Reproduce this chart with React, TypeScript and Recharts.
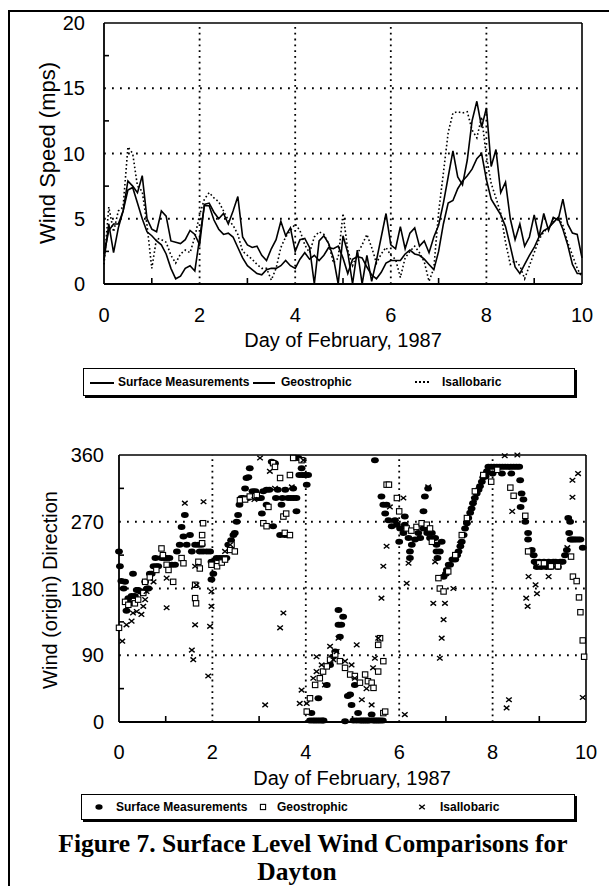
import React from "react";
import {
  LineChart,
  Line,
  ScatterChart,
  Scatter,
  XAxis,
  YAxis,
  ReferenceLine,
} from "recharts";

// sample time, day of February 1987
const DAY = [
  0, 0.1, 0.2, 0.3, 0.4, 0.5, 0.6, 0.7, 0.8, 0.9,
  1, 1.1, 1.2, 1.3, 1.4, 1.5, 1.6, 1.7, 1.8, 1.9,
  2, 2.1, 2.2, 2.3, 2.4, 2.5, 2.6, 2.7, 2.8, 2.9,
  3, 3.1, 3.2, 3.3, 3.4, 3.5, 3.6, 3.7, 3.8, 3.9,
  4, 4.1, 4.2, 4.3, 4.4, 4.5, 4.6, 4.7, 4.8, 4.9,
  5, 5.1, 5.2, 5.3, 5.4, 5.5, 5.6, 5.7, 5.8, 5.9,
  6, 6.1, 6.2, 6.3, 6.4, 6.5, 6.6, 6.7, 6.8, 6.9,
  7, 7.1, 7.2, 7.3, 7.4, 7.5, 7.6, 7.7, 7.8, 7.9,
  8, 8.1, 8.2, 8.3, 8.4, 8.5, 8.6, 8.7, 8.8, 8.9,
  9, 9.1, 9.2, 9.3, 9.4, 9.5, 9.6, 9.7, 9.8, 9.9,
  10,
];

// wind speed, m/s
const SURFACE_SPEED = [
  1.8, 4.6, 2.4, 4.3, 5.6, 7.9, 7.5, 7.0, 8.3, 5.0,
  4.2, 4.0, 5.6, 5.2, 3.3, 3.2, 3.1, 3.4, 4.1, 3.8,
  3.0, 6.1, 6.2, 5.5, 5.0, 5.4, 4.6, 5.6, 6.7, 3.6,
  3.0, 2.8, 2.9, 2.2, 1.8, 2.7, 3.4, 4.8, 3.7, 4.3,
  2.5, 3.4, 3.5, 2.8, 0.0, 3.3, 3.7, 3.1, 2.0, 0.0,
  3.7, 2.4, 0.0, 2.6, 0.0, 2.2, 0.2, 1.8, 3.6, 5.4,
  3.0, 2.7, 4.4, 2.7, 3.9, 4.3, 2.9, 3.3, 2.4, 3.6,
  4.5, 6.2, 8.2, 10.2, 8.2, 7.6, 9.5, 12.5, 14.0, 12.0,
  13.5, 9.0, 10.3, 7.0, 7.8, 5.0, 3.4, 4.6, 2.9, 3.6,
  5.3, 3.6, 5.4, 4.1, 5.1, 4.9, 6.5, 4.6, 3.9, 3.8,
  2.0,
];

const GEOSTROPHIC_SPEED = [
  2.3, 4.1, 4.6, 4.6, 5.6, 7.2, 7.4, 6.2, 5.0, 4.0,
  3.7, 3.3, 3.0, 2.3, 1.2, 0.4, 0.6, 1.2, 1.4, 1.0,
  3.5, 6.0, 6.0, 4.9, 4.2, 3.8, 3.9, 3.6, 2.8, 2.0,
  1.4, 1.1, 0.8, 0.7, 1.1, 1.2, 1.2, 1.4, 1.8, 1.4,
  1.2, 1.9, 2.4, 1.9, 2.2, 1.8, 2.2, 2.8, 2.7, 2.9,
  2.0, 0.8, 1.9, 2.1, 2.0, 1.3, 0.7, 0.4, 0.9, 1.6,
  1.8, 1.8, 1.8, 2.3, 2.6, 2.3, 2.2, 1.9, 1.5, 1.1,
  2.5, 4.6, 6.2, 6.4, 7.3, 7.9, 8.3, 8.8, 9.6, 10.0,
  8.0, 6.5, 5.9, 5.3, 4.4, 2.9, 1.3, 0.8, 1.5, 2.2,
  2.8, 3.6, 4.1, 4.3, 4.7, 5.1, 4.2, 3.0, 1.5, 0.8,
  0.8,
];

const ISALLOBARIC_SPEED = [
  1.5, 5.9, 4.0, 5.6, 5.9, 10.5, 10.0, 7.5, 7.1, 4.5,
  1.2, 3.5, 3.4, 3.2, 2.2, 1.6, 2.3, 2.6, 2.4, 3.6,
  5.3, 6.5, 7.0, 6.6, 6.3, 5.6, 4.9, 4.5, 3.8, 2.5,
  2.2, 1.9, 1.5, 1.2, 1.2, 0.3, 1.2, 2.8, 3.6, 4.1,
  4.6, 4.1, 3.0, 2.4, 3.6, 4.0, 3.8, 3.1, 1.6, 2.0,
  5.4, 2.6, 1.4, 2.3, 3.0, 3.8, 2.8, 1.6, 2.3, 2.8,
  2.2, 1.9, 0.5, 2.0, 2.5, 2.9, 2.4, 1.7, 0.2, 1.2,
  5.5, 8.5, 11.6, 13.1, 13.2, 13.1, 13.2, 11.8, 11.2, 12.8,
  9.8, 7.7, 6.6, 5.4, 3.2, 1.5, 1.8, 1.4, 0.4, 1.4,
  2.4, 3.4, 4.0, 4.3, 4.8, 5.1, 4.5, 3.2, 2.2, 1.2,
  0.5,
];

// wind (origin) direction, [day, degrees]
const SURFACE_DIR: [number, number][] = [
  [0, 230], [0.02, 210], [0.05, 190], [0.1, 180], [0.13, 189], [0.16, 150], [0.2, 167],
  [0.24, 160], [0.27, 170], [0.3, 200], [0.34, 170], [0.38, 178], [0.41, 178], [0.46, 176],
  [0.52, 176], [0.56, 189], [0.6, 180], [0.63, 180], [0.66, 200], [0.7, 200], [0.74, 210],
  [0.8, 210], [0.84, 210], [0.78, 221], [0.91, 221], [0.97, 221], [1.02, 221], [1.08, 221],
  [1.13, 212], [1.2, 212], [1.24, 230], [1.3, 239], [1.34, 263], [1.38, 250], [1.41, 279],
  [1.45, 239], [1.52, 252], [1.56, 230], [1.63, 239], [1.7, 239], [1.77, 239], [1.73, 230],
  [1.8, 230], [1.88, 230], [1.95, 230], [1.98, 216], [1.98, 192], [2.02, 200], [2.09, 221],
  [2.16, 221], [2.23, 221], [2.3, 221], [2.34, 239], [2.4, 245], [2.45, 252],
  [2.48, 255], [2.52, 270], [2.55, 279], [2.58, 293], [2.62, 302], [2.66, 302], [2.7, 315],
  [2.73, 329], [2.77, 330], [2.8, 342], [2.76, 302], [2.86, 311], [2.92, 311], [2.98, 302],
  [3.04, 302], [3.09, 311], [3.06, 281], [3.16, 293], [3.16, 313], [3.22, 313], [3.27, 351],
  [3.3, 264], [3.34, 349], [3.36, 302], [3.4, 313], [3.45, 252], [3.48, 293], [3.5, 302],
  [3.55, 252], [3.56, 313], [3.62, 302], [3.63, 252], [3.68, 302], [3.73, 315], [3.74, 302],
  [3.77, 356], [3.8, 284], [3.8, 302], [3.84, 356], [3.86, 333], [3.91, 342], [3.93, 333],
  [3.98, 333], [4.02, 320], [4.05, 333],
  [4.09, 2], [4.12, 12], [4.15, 2], [4.2, 2], [4.25, 2], [4.27, 32], [4.3, 2], [4.35, 2],
  [4.38, 2], [4.45, 50], [4.52, 77], [4.58, 88], [4.63, 95], [4.7, 131], [4.73, 115],
  [4.7, 151], [4.76, 131], [4.8, 142], [4.84, 1], [4.9, 35], [4.95, 37], [4.98, 23],
  [5.02, 2], [5.05, 50], [5.09, 2], [5.12, 12], [5.16, 2], [5.2, 2], [5.24, 2], [5.28, 2],
  [5.32, 2], [5.36, 2], [5.41, 10], [5.44, 2], [5.48, 2], [5.52, 2], [5.56, 2], [5.6, 2],
  [5.65, 2], [5.48, 353],
  [5.62, 304], [5.66, 293], [5.7, 281], [5.73, 293], [5.77, 272], [5.84, 264], [5.91, 272],
  [5.95, 266], [6, 243], [6.02, 261], [6.09, 255], [6.12, 277], [6.12, 266], [6.2, 248],
  [6.23, 230], [6.23, 221], [6.27, 239], [6.34, 246], [6.41, 255], [6.45, 248], [6.52, 261],
  [6.52, 284], [6.55, 304], [6.62, 315], [6.6, 255], [6.66, 248], [6.7, 255], [6.77, 248],
  [6.8, 239], [6.8, 230], [6.82, 221], [6.87, 230], [6.91, 243],
  [6.95, 196], [7, 200], [7.02, 205], [7.06, 212], [7.09, 212], [7.14, 219], [7.2, 219],
  [7.24, 225], [7.27, 230], [7.31, 237], [7.34, 243], [7.38, 252], [7.41, 261], [7.45, 268],
  [7.48, 275], [7.52, 282], [7.55, 288], [7.58, 295], [7.62, 302], [7.66, 308], [7.7, 313],
  [7.73, 318], [7.77, 324], [7.8, 330], [7.84, 333], [7.88, 338], [7.91, 344], [7.97, 344],
  [8.03, 344], [8.09, 344], [8.15, 344], [8.21, 344], [8.27, 344], [8.33, 344], [8.39, 344],
  [8.45, 344], [8.51, 344], [8.57, 344], [7.85, 331], [8, 335], [8.2, 335], [8.4, 335],
  [8.59, 326], [8.62, 308], [8.6, 290], [8.66, 300], [8.7, 270], [8.76, 255], [8.76, 246],
  [8.84, 232], [8.88, 225], [8.9, 216], [8.95, 209], [9, 216], [9.04, 209], [9.1, 216],
  [9.15, 209], [9.2, 216], [9.25, 209], [9.3, 216], [9.35, 216], [9.4, 209], [9.45, 216],
  [9.5, 216], [9.55, 225], [9.59, 232], [9.62, 275], [9.66, 270], [9.64, 255], [9.67, 246],
  [9.7, 246], [9.74, 246], [9.78, 246], [9.83, 246], [9.88, 246], [9.93, 235],
];

const GEOSTROPHIC_DIR: [number, number][] = [
  [0, 127], [0.13, 162], [0.2, 158], [0.34, 160], [0.41, 165], [0.52, 174], [0.56, 189],
  [0.66, 195], [0.8, 205], [0.91, 234], [0.94, 225], [1.02, 212], [1.06, 205], [1.16, 189],
  [1.34, 221], [1.38, 214], [1.63, 185], [1.63, 167], [1.65, 160], [1.8, 268], [1.78, 252],
  [1.78, 241], [1.7, 216], [1.73, 207], [1.98, 212], [2.1, 210], [2.2, 215], [2.27, 219],
  [2.38, 232], [2.41, 239], [2.48, 230], [2.59, 299], [2.7, 300], [2.8, 304], [2.95, 306],
  [3.09, 268], [3.16, 264], [3.2, 290], [3.3, 349], [3.34, 344], [3.45, 329], [3.52, 277],
  [3.58, 281], [3.55, 255], [3.66, 252], [3.66, 333], [3.73, 356], [3.91, 353],
  [4.02, 14], [4.09, 32], [4.2, 50], [4.3, 59], [4.37, 68], [4.45, 75], [4.52, 84],
  [4.63, 91], [4.73, 82], [4.84, 73], [4.95, 64], [5.05, 62], [5.16, 53], [5.27, 64],
  [5.33, 55], [5.41, 53], [5.45, 46], [5.55, 68], [5.55, 104], [5.59, 113], [5.66, 82],
  [5.66, 12], [5.7, 14],
  [5.73, 320], [5.78, 320], [5.95, 302], [6, 284], [6.16, 261], [6.26, 258], [6.37, 263],
  [6.48, 268], [6.59, 266], [6.66, 261], [6.7, 243], [6.84, 194], [6.87, 180], [6.95, 176],
  [7.05, 203], [7.2, 225], [7.34, 252], [7.45, 275], [7.62, 311], [7.8, 333], [7.97, 324],
  [8.1, 340], [8.38, 316], [8.45, 305], [8.7, 278], [8.76, 230], [9, 214], [9.1, 214],
  [9.25, 210], [9.4, 210], [9.68, 223], [9.72, 196], [9.8, 190], [9.85, 168], [9.88, 148],
  [9.93, 110], [9.96, 88],
];

const ISALLOBARIC_DIR: [number, number][] = [
  [0.07, 109], [0.16, 131], [0.27, 136], [0.3, 147], [0.38, 149], [0.48, 145], [0.52, 156],
  [0.56, 165], [0.59, 176], [0.74, 189], [1.02, 154], [1.02, 194], [1.41, 295], [1.81, 297],
  [1.56, 97], [1.59, 84], [1.63, 131], [1.95, 129], [1.91, 62], [1.98, 156], [1.98, 176],
  [1.66, 185], [1.63, 210], [2.27, 230], [2.38, 239], [2.9, 300], [3.02, 356], [3.23, 338],
  [3.34, 315], [3.7, 317], [3.95, 353], [3.52, 147], [3.45, 127], [3.13, 23], [3.91, 43],
  [4.02, 25], [3.87, 25], [4.23, 88], [4.23, 68], [4.16, 59], [4.34, 77], [4.41, 50],
  [4.52, 102], [4.59, 84], [4.7, 113], [4.66, 95], [4.84, 82], [4.98, 77], [5.09, 104],
  [5.05, 59], [5.2, 30], [5.3, 45], [5.41, 23], [5.44, 73], [5.48, 86], [5.55, 113],
  [5.62, 167], [5.66, 210], [5.73, 237], [5.8, 290], [6.09, 302], [6.16, 187], [6.2, 214],
  [6.12, 10], [6.62, 317], [6.77, 216], [6.73, 160], [6.98, 160], [6.95, 138], [6.91, 113],
  [6.87, 86], [7.16, 180], [7.3, 240], [7.6, 300], [8.26, 359], [8.53, 360], [8.42, 284],
  [8.35, 30], [8.3, 19], [8.72, 167], [8.75, 156], [8.92, 185], [8.95, 173], [8.77, 196],
  [8.93, 210], [9.2, 196], [9.6, 235], [9.71, 303], [9.71, 326], [9.83, 335], [9.93, 33],
];

// axes: labelled ticks, minor (inward) ticks, dotted grid
const DAY_LABELS = [0, 2, 4, 6, 8, 10];
const DAY_TICKS = [0, 1, 2, 3, 4, 5, 6, 7, 8, 9, 10];
const DAY_GRID = [2, 4, 6, 8];
const SPEED_LABELS = [0, 5, 10, 15, 20];
const SPEED_TICKS = [0, 2.5, 5, 7.5, 10, 12.5, 15, 17.5, 20];
const SPEED_GRID = [5, 10, 15];
const DIR_LABELS = [0, 90, 180, 270, 360];
const DIR_TICKS = [0, 45, 90, 135, 180, 225, 270, 315, 360];
const DIR_GRID = [90, 180, 270];

const SANS = "'Liberation Sans', Arial, Helvetica, sans-serif";
const SERIF = "'Liberation Serif', 'Times New Roman', serif";

const speedRows = DAY.map((day, i) => ({
  day,
  surface: SURFACE_SPEED[i],
  geo: GEOSTROPHIC_SPEED[i],
  isal: ISALLOBARIC_SPEED[i],
}));

const toPts = (arr: [number, number][]) => arr.map(([x, y]) => ({ x, y }));

// bottom axis tick: number under the axis, or a short tick pointing up into the plot
const xTick = (labels: number[], gap: number) => (p: any) => {
  const v = p.payload.value;
  if (labels.includes(v)) {
    return (
      <text x={p.x} y={p.y} dy="0.71em" textAnchor="middle" fill="#000" fontSize={20} fontFamily={SANS}>
        {v}
      </text>
    );
  }
  return <line x1={p.x} x2={p.x} y1={p.y - gap} y2={p.y - gap - 6} stroke="#000" strokeWidth={1.6} />;
};

// left axis tick: number left of the axis, or a short tick pointing right into the plot
const yTick = (labels: number[], gap: number) => (p: any) => {
  const v = p.payload.value;
  if (labels.includes(v)) {
    return (
      <text x={p.x} y={p.y} dy="0.355em" textAnchor="end" fill="#000" fontSize={20} fontFamily={SANS}>
        {v}
      </text>
    );
  }
  return <line x1={p.x + gap} x2={p.x + gap + 5} y1={p.y} y2={p.y} stroke="#000" strokeWidth={1.6} />;
};

const DotShape = (p: any) => <ellipse cx={p.cx} cy={p.cy} rx={3.9} ry={3} fill="#000" />;
const SquareShape = (p: any) => (
  <rect x={p.cx - 2.7} y={p.cy - 2.7} width={5.4} height={5.4} fill="#fff" stroke="#000" strokeWidth={1.1} />
);
const CrossShape = (p: any) => (
  <path
    d={`M${p.cx - 2.8},${p.cy - 2.3}L${p.cx + 2.8},${p.cy + 2.3}M${p.cx - 2.8},${p.cy + 2.3}L${p.cx + 2.8},${p.cy - 2.3}`}
    stroke="#000"
    strokeWidth={1.4}
  />
);

const gridH = { stroke: "#000", strokeWidth: 1.8, strokeDasharray: "1.8 6.2" };
const gridV = { stroke: "#000", strokeWidth: 1.8, strokeDasharray: "1.8 4" };
const axisLine = { stroke: "#000", strokeWidth: 1.8 };

const abs = (left: number, top: number): React.CSSProperties => ({ position: "absolute", left, top });

function LegendText({ x, children }: { x: number; children: React.ReactNode }) {
  return (
    <div style={{ ...abs(x, 0), height: "100%", display: "flex", alignItems: "center", fontSize: 12, fontWeight: 700, fontFamily: SANS, whiteSpace: "nowrap" }}>
      {children}
    </div>
  );
}

function LegendBox({ left, top, width, height, children }: any) {
  return (
    <div style={{ ...abs(left, top), width, height, border: "1px solid #000", boxShadow: "2px 2px 0 #000", background: "#fff" }}>
      {children}
    </div>
  );
}

const captionStyle: React.CSSProperties = {
  transform: "translate(-50%, -50%)",
  fontFamily: SERIF,
  fontWeight: 700,
  fontSize: 25.5,
  lineHeight: 1,
  whiteSpace: "nowrap",
};

export default function App() {
  return (
    <div style={{ position: "absolute", left: 0, top: 0, width: 609, height: 886, background: "#fff", overflow: "hidden" }}>
      {/* page frame */}
      <div style={{ ...abs(8, 10), width: 601, height: 2, background: "#000" }} />
      <div style={{ ...abs(8, 10), width: 2, height: 876, background: "#000" }} />

      {/* wind speed */}
      <div style={abs(0, 0)}>
        <LineChart width={609} height={330} data={speedRows} margin={{ top: 23, right: 27, left: 54, bottom: 6 }}>
          <XAxis
            dataKey="day"
            type="number"
            domain={[0, 10]}
            ticks={DAY_TICKS}
            interval={0}
            tickLine={false}
            tickSize={0}
            tickMargin={24}
            height={40}
            axisLine={axisLine}
            tick={xTick(DAY_LABELS, 24)}
          />
          <YAxis
            type="number"
            domain={[0, 20]}
            ticks={SPEED_TICKS}
            interval={0}
            tickLine={false}
            tickSize={0}
            tickMargin={19}
            width={50}
            axisLine={axisLine}
            tick={yTick(SPEED_LABELS, 19)}
          />
          {SPEED_GRID.map((v) => (
            <ReferenceLine key={`h${v}`} y={v} {...gridH} />
          ))}
          {DAY_GRID.map((v) => (
            <ReferenceLine key={`v${v}`} x={v} {...gridV} />
          ))}
          <ReferenceLine y={20} stroke="#000" strokeWidth={1.6} />
          <ReferenceLine x={10} stroke="#000" strokeWidth={1.6} />
          <Line dataKey="isal" type="linear" stroke="#000" strokeWidth={1.6} strokeDasharray="1.6 2.4" dot={false} isAnimationActive={false} />
          <Line dataKey="geo" type="linear" stroke="#000" strokeWidth={1.6} dot={false} isAnimationActive={false} />
          <Line dataKey="surface" type="linear" stroke="#000" strokeWidth={1.6} dot={false} isAnimationActive={false} />
        </LineChart>
      </div>
      <div style={{ ...abs(48, 153), transform: "translate(-50%, -50%) rotate(-90deg)", fontFamily: SANS, fontSize: 22, whiteSpace: "nowrap" }}>
        Wind Speed (mps)
      </div>
      <div style={{ ...abs(343, 340), transform: "translate(-50%, -50%)", fontFamily: SANS, fontSize: 20, whiteSpace: "nowrap" }}>
        Day of February, 1987
      </div>
      <LegendBox left={83} top={368} width={490} height={26}>
        <div style={{ ...abs(6, 13), width: 24, height: 1.5, background: "#000" }} />
        <LegendText x={34}>Surface Measurements</LegendText>
        <div style={{ ...abs(169, 13), width: 22, height: 1.5, background: "#000" }} />
        <LegendText x={197}>Geostrophic</LegendText>
        <div style={{ ...abs(331, 12), width: 14, height: 0, borderTop: "2px dotted #000" }} />
        <LegendText x={358}>Isallobaric</LegendText>
      </LegendBox>

      {/* wind direction */}
      <div style={abs(0, 420)}>
        <ScatterChart width={609} height={350} margin={{ top: 35, right: 23, left: 69, bottom: 8 }}>
          <XAxis
            dataKey="x"
            type="number"
            domain={[0, 10]}
            ticks={DAY_TICKS}
            interval={0}
            tickLine={false}
            tickSize={0}
            tickMargin={23}
            height={40}
            axisLine={axisLine}
            tick={xTick(DAY_LABELS, 23)}
          />
          <YAxis
            dataKey="y"
            type="number"
            domain={[0, 360]}
            ticks={DIR_TICKS}
            interval={0}
            tickLine={false}
            tickSize={0}
            tickMargin={15}
            width={50}
            axisLine={axisLine}
            tick={yTick(DIR_LABELS, 15)}
          />
          {DIR_GRID.map((v) => (
            <ReferenceLine key={`h${v}`} y={v} {...gridH} />
          ))}
          {DAY_GRID.map((v) => (
            <ReferenceLine key={`v${v}`} x={v} {...gridV} />
          ))}
          <ReferenceLine y={360} stroke="#000" strokeWidth={1.6} />
          <ReferenceLine x={10} stroke="#000" strokeWidth={1.6} />
          <Scatter data={toPts(SURFACE_DIR)} shape={DotShape} isAnimationActive={false} />
          <Scatter data={toPts(GEOSTROPHIC_DIR)} shape={SquareShape} isAnimationActive={false} />
          <Scatter data={toPts(ISALLOBARIC_DIR)} shape={CrossShape} isAnimationActive={false} />
        </ScatterChart>
      </div>
      <div style={{ ...abs(50, 590), transform: "translate(-50%, -50%) rotate(-90deg)", fontFamily: SANS, fontSize: 20, whiteSpace: "nowrap" }}>
        Wind (origin) Direction
      </div>
      <div style={{ ...abs(352, 778), transform: "translate(-50%, -50%)", fontFamily: SANS, fontSize: 20, whiteSpace: "nowrap" }}>
        Day of February, 1987
      </div>
      <LegendBox left={81} top={794} width={492} height={24}>
        <svg style={abs(11, 7)} width={12} height={10}>
          <ellipse cx={6} cy={5} rx={3.6} ry={2.8} fill="#000" />
        </svg>
        <LegendText x={34}>Surface Measurements</LegendText>
        <svg style={abs(175, 6)} width={12} height={12}>
          <rect x={3.4} y={3.4} width={5.2} height={5.2} fill="#fff" stroke="#000" strokeWidth={1.1} />
        </svg>
        <LegendText x={195}>Geostrophic</LegendText>
        <svg style={abs(334, 6)} width={12} height={12}>
          <path d="M3.2,3.7L8.8,8.3M3.2,8.3L8.8,3.7" stroke="#000" strokeWidth={1.4} />
        </svg>
        <LegendText x={358}>Isallobaric</LegendText>
      </LegendBox>

      {/* caption */}
      <div style={{ ...abs(313, 844), ...captionStyle }}>Figure 7. Surface Level Wind Comparisons for</div>
      <div style={{ ...abs(297, 871.5), ...captionStyle }}>Dayton</div>
    </div>
  );
}
